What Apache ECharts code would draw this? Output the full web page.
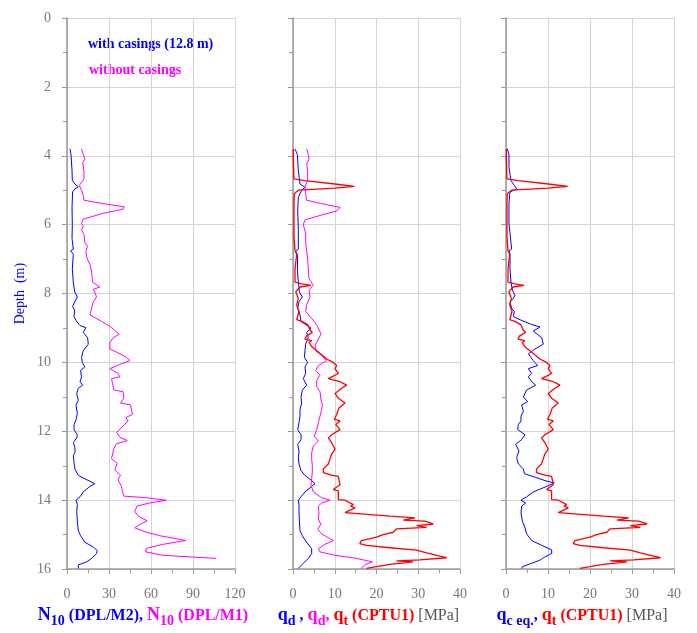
<!DOCTYPE html>
<html>
<head>
<meta charset="utf-8">
<script src="https://cdn.jsdelivr.net/npm/echarts@6/dist/echarts.min.js"></script>
<style>
html,body{margin:0;padding:0;background:#fff;}
#chart{width:697px;height:633px;}
</style>
</head>
<body>
<div id="chart"></div>
<script>
// ---- data: [value, depth (m)] ----
const depthTicks = [0, 2, 4, 6, 8, 10, 12, 14, 16];
const n10Ticks = [0, 30, 60, 90, 120];
const mpaTicks = [0, 10, 20, 30, 40];

const n10WithCasings = [
[2.1,3.8],[2.85,3.96],[3.6,4.43],[3.8,4.72],[5.7,4.82],[8.1,4.9],[5.7,4.96],[4.0,5.05],[3.6,5.5],[3.8,6.0],[3.6,6.4],[4.5,6.71],[2.6,6.76],[4.5,6.86],[3.8,7.29],[4.5,7.67],[5.5,7.95],[7.4,8.1],[5.5,8.24],[4.0,8.38],[5.5,8.48],[5.0,8.67],[6.9,8.81],[9.3,8.93],
[13.5,8.99],[11.6,9.13],[14.7,9.28],[15.2,9.47],[11.6,9.66],[10.4,9.85],[10.9,10.0],[12.8,10.13],[9.7,10.23],[10.4,10.42],[9.3,10.56],[11.2,10.66],[8.1,10.75],[6.9,10.9],[8.1,11.1],[6.4,11.24],[7.4,11.48],[6.4,11.67],[5.0,11.81],[5.0,11.95],[7.4,12.1],[6.9,12.19],[4.5,12.33],[5.7,12.47],[5.7,12.61],[4.5,12.71],[5.0,12.9],[5.7,13.1],[8.1,13.28],[12.8,13.38],[19.9,13.52],[16.4,13.6],[11.6,13.76],[9.3,13.9],[6.4,14.0],[7.4,14.13],[6.9,14.32],[7.4,14.6],[8.1,14.89],[9.7,15.03],[12.8,15.22],[18.7,15.36],[21.6,15.46],[21.1,15.55],[17.6,15.69],[14.0,15.79],[8.1,15.88],[8.1,15.98]
];

const n10WithoutCasings = [
[10.4,3.8],[11.6,3.96],[12.8,4.1],[11.2,4.2],[12.1,4.43],[12.1,4.67],[10.4,4.77],[8.8,4.86],[10.4,5.0],[11.6,5.15],[12.1,5.29],[25.9,5.39],[40.8,5.48],[40.1,5.55],[25.9,5.67],[11.6,5.84],[10.4,5.96],[11.6,6.05],[10.4,6.15],[12.1,6.29],[12.8,6.53],[14.5,6.62],[13.5,6.81],[14.5,7.0],[16.4,7.15],[17.6,7.38],[18.3,7.67],[23.5,7.81],[18.7,7.88],[19.9,7.96],[21.1,8.1],[18.7,8.24],[17.6,8.43],[16.4,8.62],[24.7,8.81],[30.6,8.95],[33.5,9.05],
[37.3,9.18],[33.0,9.28],[30.6,9.42],[30.6,9.61],[35.4,9.7],[42.5,9.85],[44.9,9.95],[38.9,10.04],[30.6,10.18],[36.5,10.32],[37.7,10.42],[31.8,10.47],[32.5,10.61],[33.5,10.8],[40.1,10.85],[40.6,11.04],[38.2,11.18],[45.3,11.23],[46.8,11.51],[42.0,11.6],[43.7,11.7],[40.1,11.84],[35.4,12.03],[37.7,12.17],[43.0,12.27],[35.4,12.36],[33.5,12.5],[31.8,12.79],[35.8,12.93],[34.2,13.12],[38.2,13.27],[36.5,13.41],[38.9,13.6],[39.6,13.74],[40.6,13.88],[56.7,13.93],[71.0,14.0],[59.1,14.08],[50.1,14.17],[48.4,14.32],[50.8,14.46],[57.2,14.6],[52.0,14.71],[48.4,14.8],[56.7,14.93],[66.2,15.03],[84.7,15.17],[68.6,15.28],[56.7,15.4],[56.2,15.5],[68.6,15.6],[106.6,15.69]
];

const qdWithCasings = [
[0.48,3.8],[1.04,3.96],[1.28,4.43],[1.68,4.82],[2.87,4.91],[2.08,5.0],[1.28,5.2],[1.12,5.58],[1.28,6.15],[1.28,6.71],[0.64,6.76],[1.12,6.9],[1.04,7.29],[1.28,7.67],[1.44,7.81],[1.52,7.95],[2.24,8.1],[1.44,8.24],[1.12,8.43],[1.68,8.62],[1.92,8.81],[3.67,8.95],[4.31,9.0],
[3.27,9.13],[3.67,9.28],[3.03,9.47],[2.87,9.66],[2.71,9.85],[3.51,10.0],[2.87,10.13],[3.03,10.32],[2.47,10.47],[3.27,10.66],[2.24,10.8],[1.92,11.0],[2.08,11.18],[1.68,11.37],[1.68,11.56],[1.44,11.75],[1.12,11.95],[1.92,12.1],[1.92,12.24],[1.12,12.38],[1.44,12.57],[1.28,12.76],[1.44,12.95],[1.92,13.14],[2.87,13.28],[4.47,13.43],[5.27,13.52],[4.31,13.62],[2.87,13.76],[1.92,13.9],[1.28,14.0],[1.44,14.13],[1.44,14.32],[1.52,14.6],[1.68,14.89],[2.24,15.03],[3.27,15.22],[4.47,15.41],[4.47,15.55],[3.67,15.69],[2.47,15.83],[1.28,15.98]
];

const qdWithoutCasings = [
[3.27,3.8],[3.67,3.96],[3.83,4.1],[3.27,4.24],[3.51,4.43],[3.51,4.72],[2.87,4.91],[3.03,5.1],[3.27,5.29],[6.87,5.39],[11.3,5.5],[10.5,5.6],[6.87,5.72],[2.87,5.86],[2.47,6.0],[3.03,6.24],[3.03,6.53],[3.27,6.76],[3.51,7.0],[3.67,7.29],[3.83,7.57],[4.87,7.76],[3.83,7.9],[4.07,8.1],[3.27,8.33],[3.03,8.52],[4.07,8.67],[5.11,8.81],[6.07,9.0],
[6.71,9.18],[6.07,9.32],[5.43,9.47],[5.43,9.66],[6.87,9.8],[8.06,9.95],[6.07,10.09],[5.43,10.23],[6.47,10.37],[5.67,10.52],[5.67,10.7],[6.47,10.85],[6.71,11.09],[7.03,11.23],[6.87,11.37],[6.47,11.56],[6.07,11.75],[5.67,11.95],[5.11,12.14],[6.07,12.28],[4.87,12.43],[4.47,12.62],[4.47,12.8],[4.63,13.0],[4.63,13.18],[4.47,13.37],[4.31,13.56],[4.87,13.76],[6.87,13.93],[8.86,14.0],[6.87,14.08],[6.07,14.17],[6.23,14.37],[6.07,14.55],[6.71,14.7],[5.91,14.84],[6.87,14.98],[9.66,15.17],[7.66,15.28],[6.07,15.41],[6.47,15.5],[10.06,15.6],[15.25,15.69],[19.0,15.79],[17.2,15.88],[16.3,15.98]
];

const qtCPTU1 = [
[0.08,3.8],[0.08,4.05],[0.24,4.67],[2.87,4.72],[10.06,4.82],[14.7,4.89],[10.06,4.94],[1.28,5.0],[0.32,5.1],[0.24,5.39],[0.24,5.86],[0.24,6.34],[0.48,6.76],[0.88,6.86],[0.48,7.29],[0.48,7.67],[2.08,7.72],[4.31,7.76],[1.68,7.81],[0.64,7.95],[1.28,8.14],[0.88,8.33],[1.44,8.52],[0.88,8.76],[2.08,8.81],[3.51,8.9],[4.07,9.05],
[4.63,9.13],[3.27,9.23],[2.87,9.32],[4.47,9.37],[3.83,9.42],[4.63,9.56],[6.07,9.7],[8.06,9.9],[9.66,10.0],[10.46,10.09],[10.06,10.18],[10.86,10.32],[8.46,10.47],[11.26,10.56],[12.85,10.66],[11.66,10.75],[10.06,10.9],[10.86,11.04],[12.45,11.18],[11.02,11.32],[10.46,11.51],[9.9,11.65],[11.26,11.7],[10.22,11.8],[11.26,11.95],[9.26,12.1],[8.46,12.19],[9.26,12.33],[10.06,12.52],[9.26,12.66],[8.86,12.8],[8.46,12.95],[7.27,13.09],
[7.27,13.2],[9.26,13.27],[10.86,13.31],[11.26,13.55],[10.86,13.6],[9.66,13.69],[10.86,13.73],[10.86,13.98],[12.45,14.0],[14.45,14.13],[13.81,14.17],[14.85,14.22],[12.45,14.36],[12.85,14.41],[23.23,14.46],[29.22,14.51],[26.4,14.58],[31.6,14.61],[33.6,14.69],[29.6,14.74],[32.0,14.79],[24.8,14.83],[24.0,14.93],[21.6,15.0],[20.0,15.07],[16.4,15.17],[16.0,15.26],[17.6,15.31],[23.2,15.38],[29.6,15.45],[32.0,15.53],[34.4,15.6],[36.8,15.67],[30.4,15.73],[24.8,15.76],[28.8,15.79],[23.2,15.86],[20.0,15.93],[17.6,15.98]
];

const qcEqWithCasings = [
[0.32,3.8],[0.71,3.96],[0.71,4.33],[0.95,4.53],[1.19,4.72],[1.98,4.86],[2.54,4.96],[0.95,5.05],[0.71,5.39],[0.71,5.96],[1.19,6.53],[1.35,6.71],[0.71,6.76],[0.95,6.86],[0.95,7.29],[1.19,7.67],[1.51,7.9],[2.14,8.05],[1.75,8.14],[0.95,8.24],[1.35,8.43],[1.98,8.52],[1.75,8.67],[3.33,8.76],[6.11,8.9],[8.09,8.97],
[6.5,9.09],[8.49,9.28],[8.89,9.47],[6.9,9.61],[5.31,9.75],[6.5,9.95],[7.54,10.09],[5.31,10.18],[6.11,10.32],[5.31,10.42],[6.11,10.56],[7.06,10.66],[4.92,10.8],[4.13,11.0],[5.16,11.14],[3.73,11.23],[4.13,11.42],[3.57,11.56],[3.57,11.7],[2.94,11.8],[2.78,11.95],[4.52,12.1],[3.73,12.24],[2.3,12.38],[3.09,12.57],[2.54,12.76],[2.94,12.95],[4.13,13.09],[4.37,13.23],[6.9,13.33],[9.28,13.43],[11.5,13.5],[9.28,13.62],[6.5,13.76],[4.92,13.9],[3.57,14.0],[4.68,14.08],[3.73,14.17],[3.57,14.37],[3.89,14.6],[4.52,14.8],[4.92,14.98],[6.11,15.17],[8.49,15.31],[10.87,15.44],[10.87,15.55],[8.89,15.67],[8.09,15.74],[6.11,15.83],[3.89,15.93],[3.73,15.98]
];

// ---- styling ----
const SERIF = "'Liberation Serif','Times New Roman',serif";
const BLUE = '#0000ff', MAG = '#ff00ff', RED = '#ff0000', GRAY = '#777777';
const grids = [
  {left: 67, top: 18, width: 168, height: 561},
  {left: 293, top: 18, width: 167, height: 561},
  {left: 506, top: 18, width: 168, height: 561}
];

function yAx(i) {
  return {
    type: 'value', gridIndex: i, inverse: true,
    min: depthTicks[0], max: depthTicks[depthTicks.length - 1], interval: depthTicks[1] - depthTicks[0],
    name: i === 0 ? 'Depth  (m)' : '', nameLocation: 'middle', nameRotate: 90, nameGap: 40,
    nameTextStyle: {color: BLUE, fontFamily: SERIF, fontSize: 14},
    axisLine: {show: true, onZero: false, lineStyle: {color: '#999', width: 1.5}},
    axisTick: {show: true, inside: false, length: 5, lineStyle: {color: '#999'}},
    minorTick: {show: true, splitNumber: 2, length: 4, lineStyle: {color: '#999'}},
    axisLabel: {show: i === 0, color: GRAY, fontFamily: SERIF, fontSize: 14, margin: 16},
    splitLine: {show: true, lineStyle: {color: '#d4d4d4', width: 1}}
  };
}

const rich = {
  bN: {fontFamily: SERIF, fontSize: 18, fontWeight: 'bold', color: BLUE, verticalAlign: 'bottom', padding: [0,0,4,0]},
  bS: {fontFamily: SERIF, fontSize: 14, fontWeight: 'bold', color: BLUE, verticalAlign: 'bottom'},
  bT: {fontFamily: SERIF, fontSize: 16, fontWeight: 'bold', color: BLUE, verticalAlign: 'bottom', padding: [0,0,4,0]},
  mN: {fontFamily: SERIF, fontSize: 18, fontWeight: 'bold', color: MAG, verticalAlign: 'bottom', padding: [0,0,4,0]},
  mS: {fontFamily: SERIF, fontSize: 14, fontWeight: 'bold', color: MAG, verticalAlign: 'bottom'},
  mT: {fontFamily: SERIF, fontSize: 16, fontWeight: 'bold', color: MAG, verticalAlign: 'bottom', padding: [0,0,4,0]},
  rN: {fontFamily: SERIF, fontSize: 18, fontWeight: 'bold', color: RED, verticalAlign: 'bottom', padding: [0,0,4,0]},
  rS: {fontFamily: SERIF, fontSize: 14, fontWeight: 'bold', color: RED, verticalAlign: 'bottom'},
  rT: {fontFamily: SERIF, fontSize: 16, fontWeight: 'bold', color: RED, verticalAlign: 'bottom', padding: [0,0,4,0]},
  gT: {fontFamily: SERIF, fontSize: 16, color: '#555', verticalAlign: 'bottom', padding: [0,16,4,0]},
  mEnd: {fontFamily: SERIF, fontSize: 16, fontWeight: 'bold', color: MAG, verticalAlign: 'bottom', padding: [0,16,4,0]}
};

const xNames = [
  '{bN|N}{bS|10}{bT| (DPL/M2), }{mN|N}{mS|10}{mEnd| (DPL/M1)}',
  '{bN|q}{bS|d}{bT| , }{mN|q}{mS|d}{mT|, }{rN|q}{rS|t}{rT| (CPTU1) }{gT|[MPa]}',
  '{bN|q}{bS|c eq.}{bT|, }{rN|q}{rS|t}{rT| (CPTU1) }{gT|[MPa]}'
];

function xAx(i, ticks) {
  return {
    type: 'value', gridIndex: i, position: 'bottom',
    min: ticks[0], max: ticks[ticks.length - 1], interval: ticks[1] - ticks[0],
    name: xNames[i], nameLocation: 'middle', nameGap: 33,
    nameTextStyle: {rich: rich},
    axisLine: {show: true, onZero: false, lineStyle: {color: '#999', width: 1.5}},
    axisTick: {show: true, inside: false, length: 5, lineStyle: {color: '#999'}},
    minorTick: {show: true, splitNumber: 2, length: 4, lineStyle: {color: '#999'}},
    axisLabel: {color: GRAY, fontFamily: SERIF, fontSize: 14, margin: 18},
    splitLine: {show: true, lineStyle: {color: '#d4d4d4', width: 1}}
  };
}

function ln(name, data, xi, color, w) {
  return {
    name: name, type: 'line', xAxisIndex: xi, yAxisIndex: xi, data: data,
    showSymbol: false, symbol: 'none', animation: false, clip: true,
    lineStyle: {color: color, width: w}, itemStyle: {color: color}
  };
}

const chart = echarts.init(document.getElementById('chart'), null, {renderer: 'canvas'});
chart.setOption({
  backgroundColor: '#ffffff',
  animation: false,
  grid: grids,
  xAxis: [xAx(0, n10Ticks), xAx(1, mpaTicks), xAx(2, mpaTicks)],
  yAxis: [yAx(0), yAx(1), yAx(2)],
  graphic: [
    {type: 'text', left: 88, top: 37, style: {text: 'with casings (12.8 m)', fill: BLUE, font: "bold 14px 'Liberation Serif', serif"}},
    {type: 'text', left: 89, top: 63, style: {text: 'without casings', fill: MAG, font: "bold 14px 'Liberation Serif', serif"}}
  ],
  series: [
    ln('N10 (DPL/M2) with casings', n10WithCasings, 0, BLUE, 1),
    ln('N10 (DPL/M1) without casings', n10WithoutCasings, 0, MAG, 1),
    ln('qd (DPL/M2)', qdWithCasings, 1, BLUE, 1),
    ln('qd (DPL/M1)', qdWithoutCasings, 1, MAG, 1),
    ln('qt (CPTU1)', qtCPTU1, 1, RED, 1.3),
    ln('qc eq.', qcEqWithCasings, 2, BLUE, 1),
    ln('qt (CPTU1) ', qtCPTU1, 2, RED, 1.3)
  ]
});
</script>
</body>
</html>
